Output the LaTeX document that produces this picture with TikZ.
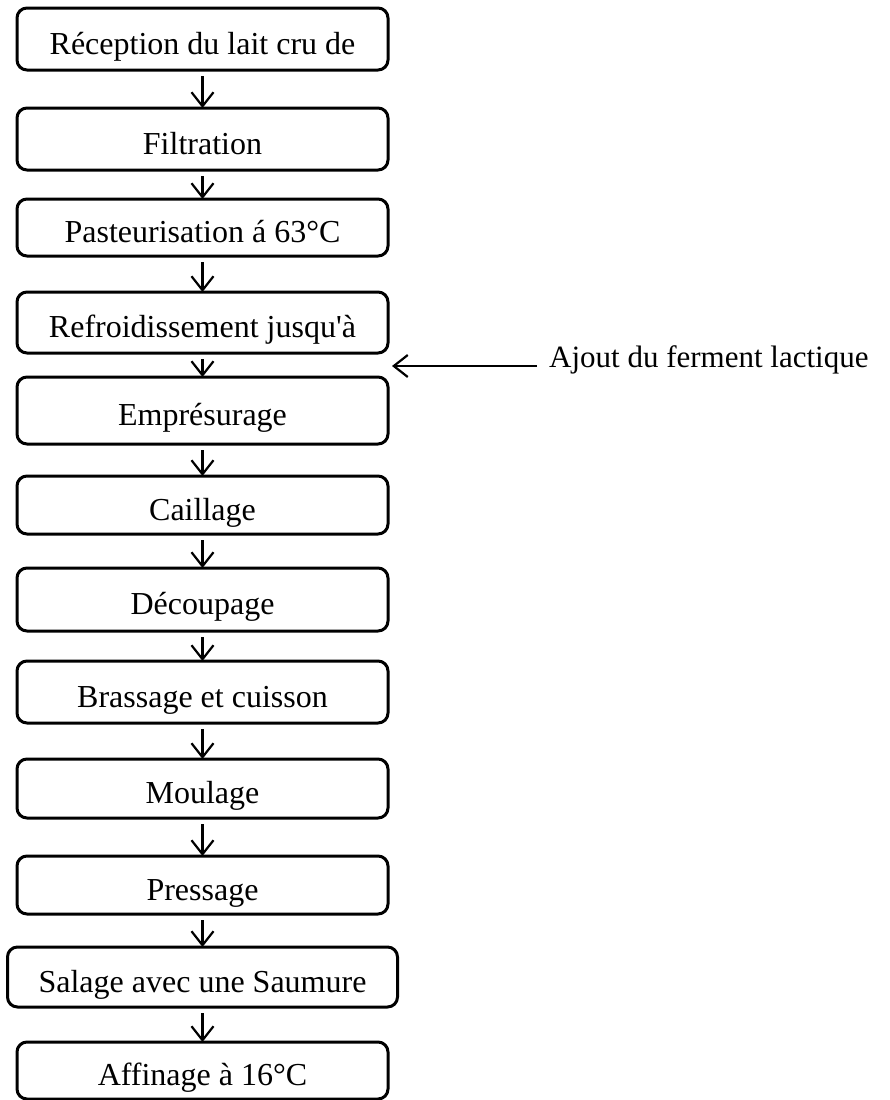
\documentclass[tikz,border=0pt]{standalone}
\usepackage{fontspec}
\setmainfont{Liberation Serif}
\usetikzlibrary{arrows.meta,positioning}

\begin{document}
\begin{tikzpicture}[x=1pt, y=-1pt, font=\fontsize{32}{38}\selectfont]
\tikzset{stepbox/.style={draw, rounded corners=10pt, line width=3pt, minimum width=371pt, inner sep=0pt, outer sep=0pt, text height=32pt, text depth=2pt}}
\tikzset{flow/.style={line width=2.2pt, -{Straight Barb[length=14pt, width=22pt]}}}
\useasboundingbox (0,0) rectangle (890,1100);
\node[stepbox, minimum height=62pt] (recep) at (202.5,39) {Réception du lait cru de};
\node[stepbox, minimum height=62pt, below=38pt of recep] (filt) {Filtration};
\node[stepbox, minimum height=57pt, below=29pt of filt] (pasteur) {Pasteurisation á 63°C};
\node[stepbox, minimum height=61pt, below=36pt of pasteur] (refroid) {Refroidissement jusqu\textquotesingle à};
\node[stepbox, minimum height=67pt, below=24pt of refroid] (empres) {Emprésurage};
\node[stepbox, minimum height=58pt, below=32pt of empres] (caill) {Caillage};
\node[stepbox, minimum height=63pt, below=34pt of caill] (decoup) {Découpage};
\node[stepbox, minimum height=62pt, below=30pt of decoup] (brass) {Brassage et cuisson};
\node[stepbox, minimum height=59pt, below=36pt of brass] (moul) {Moulage};
\node[stepbox, minimum height=58pt, below=38pt of moul] (press) {Pressage};
\node[stepbox, minimum height=60pt, minimum width=390pt, below=33pt of press] (salage) {Salage avec une Saumure};
\node[stepbox, minimum height=57pt, below=35pt of salage] (affin) {Affinage à 16°C};
% ferment added between cooling and renneting
\node[anchor=base west, inner sep=0pt, font=\fontsize{31}{36}\selectfont] (ferment) at (549,367) {Ajout du ferment lactique};
\coordinate (feed) at (392,366);
\draw[flow] ([xshift=-12pt,yshift=1pt]ferment.base west) -- (feed);
\draw[flow] ([yshift=-6pt]recep.south) -- (filt.north);
\draw[flow] ([yshift=-6pt]filt.south) -- (pasteur.north);
\draw[flow] ([yshift=-6pt]pasteur.south) -- (refroid.north);
\draw[flow] ([yshift=-6pt]refroid.south) -- (empres.north);
\draw[flow] ([yshift=-6pt]empres.south) -- (caill.north);
\draw[flow] ([yshift=-6pt]caill.south) -- (decoup.north);
\draw[flow] ([yshift=-6pt]decoup.south) -- (brass.north);
\draw[flow] ([yshift=-6pt]brass.south) -- (moul.north);
\draw[flow] ([yshift=-6pt]moul.south) -- (press.north);
\draw[flow] ([yshift=-6pt]press.south) -- (salage.north);
\draw[flow] ([yshift=-6pt]salage.south) -- (affin.north);
\end{tikzpicture}
\end{document}
